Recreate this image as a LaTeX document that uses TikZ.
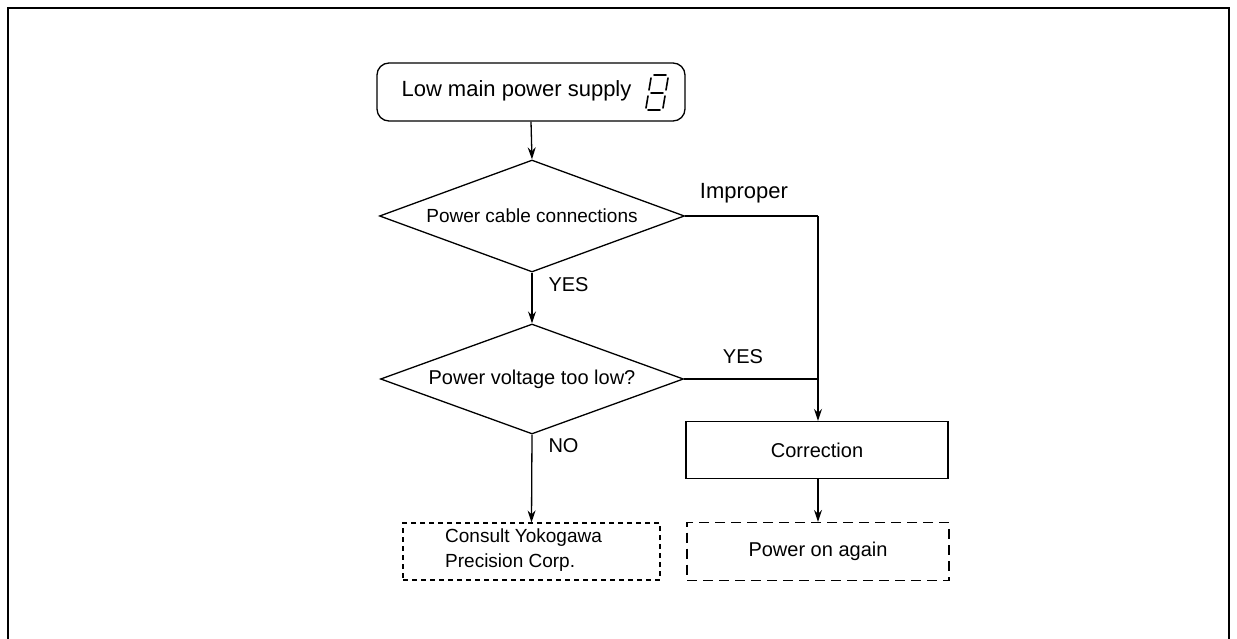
\documentclass[tikz,border=0pt]{standalone}
\usepackage{fontspec}
\setmainfont{Liberation Sans}
\usetikzlibrary{shapes.geometric,arrows.meta}

\tikzset{
  txt/.style={font=\fontsize{20}{25}\selectfont},
  flow/.style={line width=1.3pt, -{Stealth[length=12pt,width=8pt]}},
  link/.style={line width=1.3pt},
  startbox/.style={draw, line width=1.3pt, rounded corners=12pt, minimum width=308pt, minimum height=58pt, inner sep=0pt},
  decision/.style={draw, line width=1.3pt, diamond, shape aspect=2.7, inner sep=0pt, txt},
  procbox/.style={draw, line width=1.3pt, minimum width=262pt, minimum height=57pt, inner sep=0pt, txt},
  endbox/.style={draw, line width=1.2pt, minimum width=262pt, minimum height=58pt, inner sep=0pt, txt, align=center},
  seg/.style={line width=1.6pt, line cap=round},
}

\begin{document}
\begin{tikzpicture}[x=1pt, y=-1pt]
  \useasboundingbox (0,0) rectangle (1237,639);

  % outer frame, open at the bottom
  \draw[line width=1.2pt] (8,639) -- (8,8) -- (1229,8) -- (1229,639);

  % start terminal
  \node[startbox] (start) at (531,92) {};
  \node[txt, font=\fontsize{22}{26}\selectfont, anchor=west] (starttext) at (398,91) {Low main power supply};

  % seven-segment digit after the title
  \draw[seg] (654,75) -- (666,75);
  \draw[seg] (651,78) -- (649,90);
  \draw[seg] (668,78) -- (666,90);
  \draw[seg] (651,93) -- (663,93);
  \draw[seg] (648,96) -- (646,108);
  \draw[seg] (665,96) -- (663,108);
  \draw[seg] (648,110) -- (660,110);

  % decisions
  \node[decision, minimum width=305pt, minimum height=112pt] (cable) at (532,216)
    {\fontsize{19}{23}\selectfont Power cable connections};
  \node[decision, minimum width=303pt, minimum height=110pt] (volt) at (532,379)
    {Power voltage too low?};

  % actions and outcomes
  \node[procbox] (corr) at (817,450) {Correction};
  \node[endbox, dash pattern=on 10pt off 6pt] (again) at (818,551.5) {Power on again};
  \node[endbox, dash pattern=on 5pt off 4pt, minimum width=257pt, minimum height=57pt] (consult) at (531.5,551.5) {};
  \node[txt, font=\fontsize{19}{25}\selectfont, align=left, anchor=west, inner sep=0pt] (consulttext) at (445,550.5)
    {Consult Yokogawa\\Precision Corp.};

  % junction points on the right-hand trunk
  \coordinate (trunk) at (818,216);
  \coordinate (join) at (818,379);

  % connectors
  \draw[flow] (start.south) -- (cable.north);
  \draw[flow] (cable.south) -- (volt.north);
  \draw[flow] (volt.south) -- (consult.north);
  \draw[link] (cable.east) -- (trunk);
  \draw[flow] (trunk) -- (corr.north -| trunk);
  \draw[link] (volt.east) -- (join);
  \draw[flow] (corr.south -| again.north) -- (again.north);

  % branch labels
  \node[txt, font=\fontsize{22}{26}\selectfont] (lblimproper) at (744,193) {Improper};
  \node[txt, anchor=west] (lblyes1) at (545,285) {YES};
  \node[txt] (lblyes2) at (743,357) {YES};
  \node[txt, anchor=west] (lblno) at (545,446) {NO};
\end{tikzpicture}
\end{document}
